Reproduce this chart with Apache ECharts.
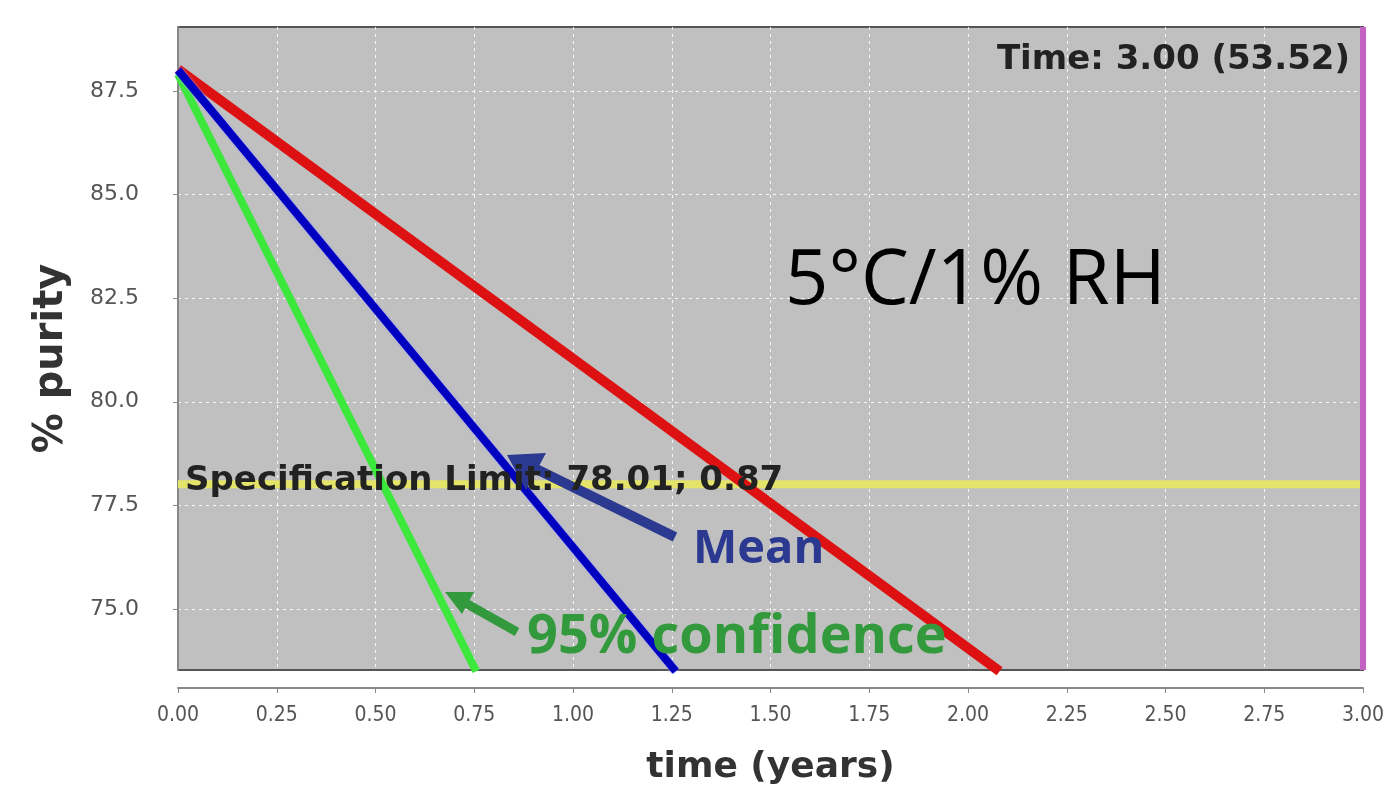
<!DOCTYPE html>
<html>
<head>
<meta charset="utf-8">
<script src="https://cdn.jsdelivr.net/npm/echarts@6/dist/echarts.min.js"></script>
<style>
html,body{margin:0;padding:0;background:#fff;}
#chart{width:1390px;height:789px;}
</style>
</head>
<body>
<div id="chart"></div>
<script>
// ---- data ----
const xTicks = [0, 0.25, 0.5, 0.75, 1.0, 1.25, 1.5, 1.75, 2.0, 2.25, 2.5, 2.75, 3.0];
const yTicks = [75.0, 77.5, 80.0, 82.5, 85.0, 87.5];
const yRange = [73.53, 89.04];
const xRange = [0, 3];
// lines: [time, purity] endpoints
const upperLine = [[0, 88.02], [2.08, 73.5]];    // red
const meanLine = [[0, 88.0], [1.26, 73.5]];      // blue
const conf95Line = [[0, 87.9], [0.755, 73.5]];   // green
const specLimit = 78.01;
const specTime = 0.87;
const cursorTime = 3.00;
const cursorValue = 53.52;

const chart = echarts.init(document.getElementById('chart'));

const option = {
  backgroundColor: '#ffffff',
  animation: false,
  grid: {
    left: 178, right: 27, top: 27, bottom: 119,
    show: true,
    backgroundColor: '#c0c0c0',
    borderColor: '#555555',
    borderWidth: 2,
    outerBoundsMode: 'none'
  },
  xAxis: {
    type: 'value',
    min: xRange[0], max: xRange[1], interval: 0.25,
    offset: 18,
    name: 'time (years)',
    nameLocation: 'middle',
    nameGap: 62,
    nameTextStyle: { fontFamily: 'DejaVu Sans', fontWeight: 'bold', fontSize: 36, color: '#333' },
    axisLine: { show: true, lineStyle: { color: '#888', width: 2 } },
    axisTick: { show: true, length: 5, lineStyle: { color: '#888' } },
    axisLabel: {
      margin: 17,
      fontFamily: 'DejaVu Sans Condensed', fontSize: 21, color: '#555',
      formatter: v => v.toFixed(2)
    },
    splitLine: { show: true, lineStyle: { color: 'rgba(255,255,255,0.85)', type: [3, 4], width: 1 } }
  },
  yAxis: {
    type: 'value',
    min: yRange[0], max: yRange[1],
    offset: 17,
    name: '% purity',
    nameLocation: 'middle',
    nameRotate: 90,
    nameGap: 89,
    nameTextStyle: { fontFamily: 'DejaVu Sans', fontWeight: 'bold', fontSize: 40, color: '#333', padding: [0, 20, 0, 0] },
    axisLine: { show: true, lineStyle: { color: '#888', width: 2 } },
    axisTick: { show: true, length: 5, customValues: yTicks, lineStyle: { color: '#888' } },
    axisLabel: {
      margin: 22, customValues: yTicks,
      fontFamily: 'DejaVu Sans', fontSize: 22, color: '#555',
      formatter: v => v.toFixed(1)
    },
    splitLine: { show: true, lineStyle: { color: 'rgba(255,255,255,0.85)', type: [3, 4], width: 1 } }
  },
  series: [
    {
      name: 'spec', type: 'line', symbol: 'none', clip: true,
      data: [[xRange[0], specLimit], [xRange[1], specLimit]],
      lineStyle: { color: '#e4e46a', width: 8 }, z: 2
    },
    {
      name: 'cursor', type: 'line', symbol: 'none', clip: true,
      data: [[cursorTime, yRange[0]], [cursorTime, yRange[1]]],
      lineStyle: { color: '#c462c4', width: 6 }, z: 2
    },
    {
      name: 'upper', type: 'line', symbol: 'none', clip: true,
      data: upperLine,
      lineStyle: { color: '#dd1111', width: 10 }, z: 3
    },
    {
      name: '95% confidence', type: 'line', symbol: 'none', clip: true,
      data: conf95Line,
      lineStyle: { color: '#3ce83c', width: 8 }, z: 3
    },
    {
      name: 'mean', type: 'line', symbol: 'none', clip: true,
      data: meanLine,
      lineStyle: { color: '#0000c0', width: 8, shadowColor: 'rgba(160,160,255,0.9)', shadowBlur: 3 }, z: 4
    }
  ],
  graphic: [
    {
      type: 'text', x: 1350, y: 60, z: 100,
      style: {
        text: 'Time: ' + cursorTime.toFixed(2) + ' (' + cursorValue.toFixed(2) + ')',
        fill: '#222', font: 'bold 34px "DejaVu Sans"',
        textAlign: 'right', textVerticalAlign: 'middle'
      }
    },
    {
      type: 'text', x: 185, y: 481, z: 100,
      style: {
        text: 'Specification Limit: ' + specLimit.toFixed(2) + '; ' + specTime.toFixed(2),
        fill: '#222', font: 'bold 34px "DejaVu Sans"',
        textAlign: 'left', textVerticalAlign: 'middle'
      }
    },
    {
      type: 'text', x: 785, y: 282, z: 100,
      style: {
        text: '5°C/1% RH',
        fill: '#000', font: '76px "Open Sans"',
        textAlign: 'left', textVerticalAlign: 'middle'
      }
    },
    {
      type: 'text', x: 693, y: 550, z: 100,
      style: {
        text: 'Mean',
        fill: '#2b3990', font: 'bold 47px "Open Sans"',
        textAlign: 'left', textVerticalAlign: 'middle'
      }
    },
    {
      type: 'text', x: 527, y: 638, z: 100,
      style: {
        text: '95% confidence',
        fill: '#329a3c', font: 'bold 54px "Open Sans"',
        textAlign: 'left', textVerticalAlign: 'middle'
      }
    },
    // Mean arrow
    {
      type: 'line', z: 99,
      shape: { x1: 675, y1: 537, x2: 530, y2: 466 },
      style: { stroke: '#2b3990', lineWidth: 10 }
    },
    {
      type: 'polygon', z: 99,
      shape: { points: [[507, 455], [546, 453], [526, 490]] },
      style: { fill: '#2b3990' }
    },
    // 95% arrow
    {
      type: 'line', z: 99,
      shape: { x1: 517, y1: 632, x2: 462, y2: 601 },
      style: { stroke: '#329a3c', lineWidth: 9 }
    },
    {
      type: 'polygon', z: 99,
      shape: { points: [[445, 592], [474, 592], [462, 614]] },
      style: { fill: '#329a3c' }
    }
  ]
};
chart.setOption(option);
</script>
</body>
</html>
